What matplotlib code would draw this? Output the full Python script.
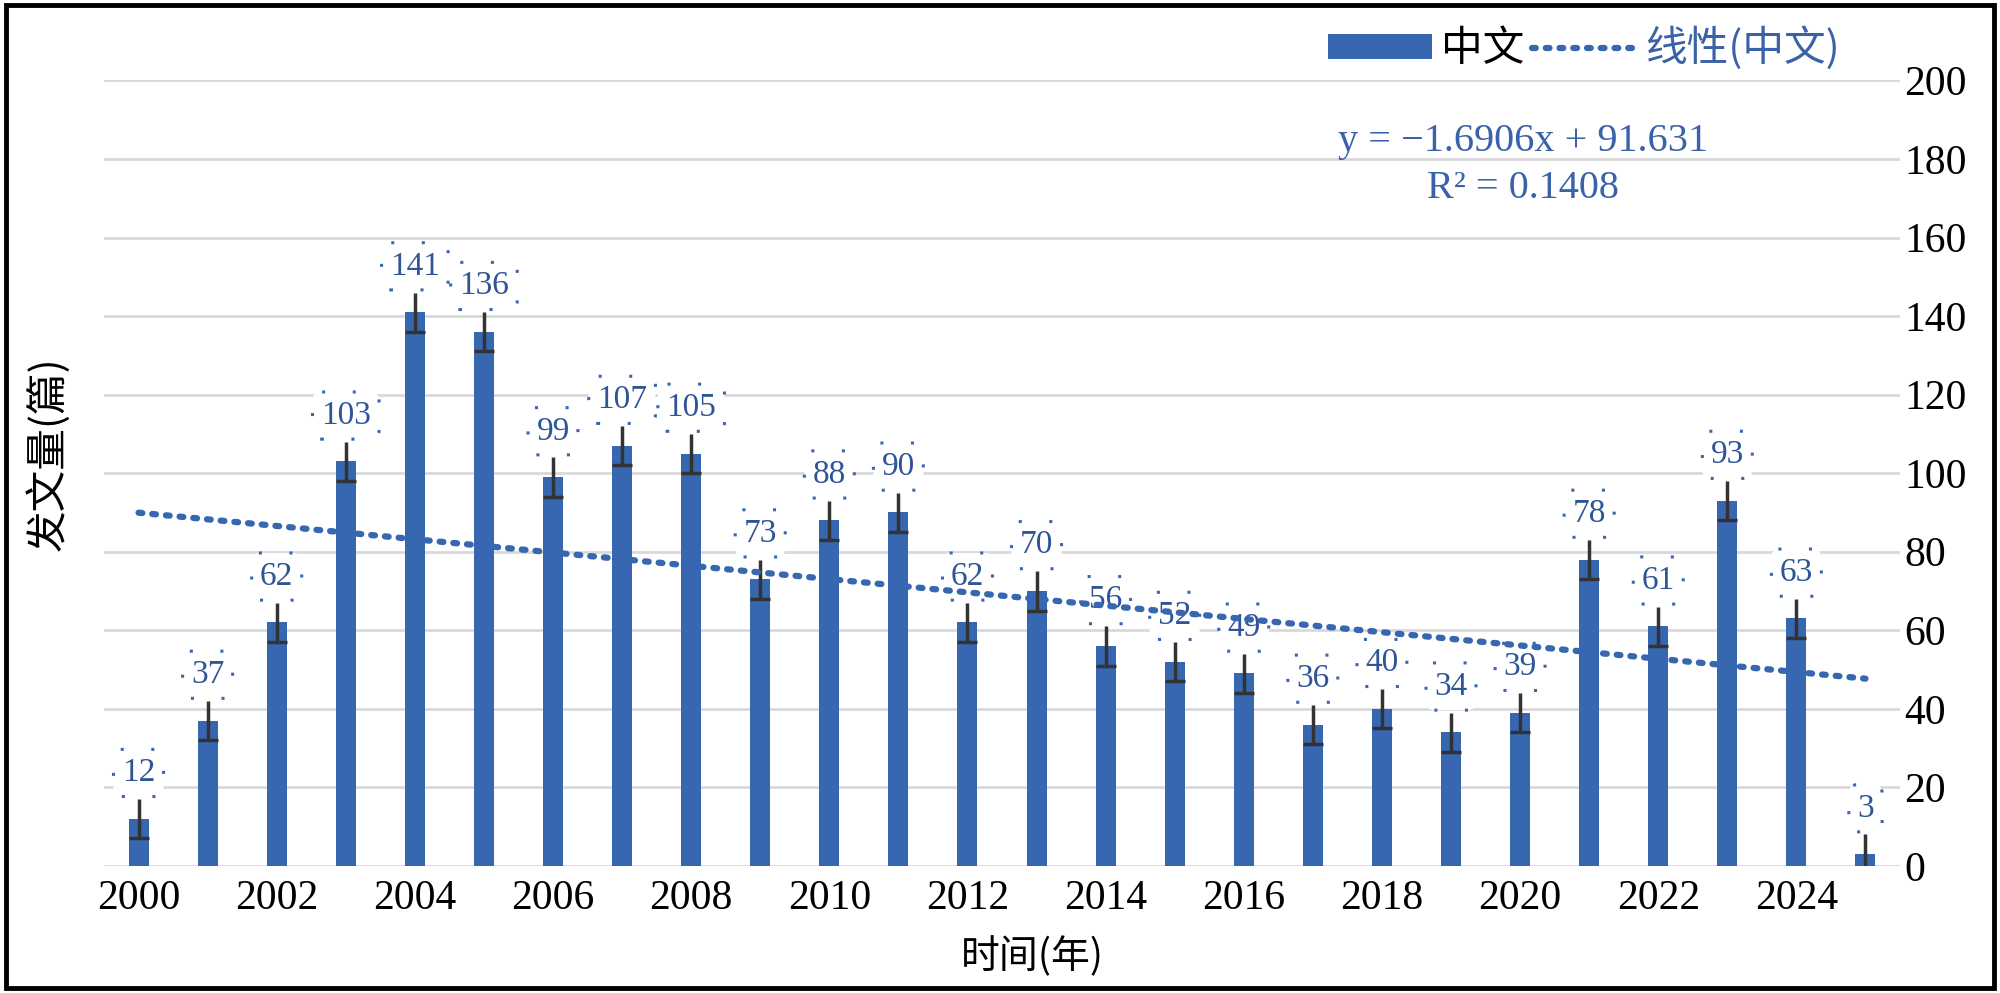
import numpy as np
import matplotlib
matplotlib.use("Agg")
import matplotlib.pyplot as plt
from matplotlib.patches import Patch, Rectangle
from matplotlib.lines import Line2D

# data
years = list(range(2000, 2026))
counts = [12, 37, 62, 103, 141, 136, 99, 107, 105, 73, 88, 90, 62, 70,
          56, 52, 49, 36, 40, 34, 39, 78, 61, 93, 63, 3]
err = 5
xticks_shown = list(range(2000, 2025, 2))
yticks = list(range(0, 201, 20))

bar_color = "#3767b1"
label_color = "#2f5597"
serif = ["Liberation Serif", "Noto Sans CJK SC"]
cjk = ["Noto Sans CJK SC", "Liberation Serif"]

fig = plt.figure(figsize=(20, 9.93), dpi=100)
ax = fig.add_axes([0.052, 0.128, 0.898, 0.791])

x = np.arange(len(years))
ax.bar(x, counts, width=0.29, color=bar_color, zorder=2)
ax.errorbar(x, counts, yerr=err, fmt="none", ecolor="#333333",
            elinewidth=2.5, capsize=0, zorder=3)
ax.plot(x, np.array(counts) - err, "_", color="#333333", ms=14, mew=2.5,
        zorder=3, clip_on=True)

# value labels
for xi, v in zip(x, counts):
    ax.annotate(str(v), (xi, v), xytext=(0, 33), textcoords="offset points",
                ha="center", va="center", fontsize=24, family=serif,
                color=label_color, zorder=4,
                bbox=dict(boxstyle="round,pad=0.25", fc="white",
                          ec=bar_color, ls=(0, (1, 9)), lw=2.2))

# linear trend (Excel style, x = 1..n)
coef = np.polyfit(np.arange(1, len(counts) + 1), counts, 1)
trend = np.polyval(coef, np.arange(1, len(counts) + 1))
ax.plot(x, trend, linestyle=(0, (0.6, 1.6)), color=bar_color, lw=4.5,
        dash_capstyle="round", zorder=5)

ax.text(0.79, 0.892, "y = \u22121.6906x + 91.631\nR\u00b2 = 0.1408",
        transform=ax.transAxes, ha="center", va="center", fontsize=29,
        family=serif, color="#3a62a8", linespacing=1.35)

ax.set_xlim(-0.5, len(years) - 0.5)
ax.set_ylim(0, 200)
ax.set_yticks(yticks)
ax.set_xticks([years.index(y) for y in xticks_shown])
ax.set_xticklabels([str(y) for y in xticks_shown])
ax.yaxis.tick_right()
ax.tick_params(axis="both", length=0, labelsize=30)
ax.tick_params(axis="x", pad=10)
ax.tick_params(axis="y", pad=3)
for lab in ax.get_xticklabels() + ax.get_yticklabels():
    lab.set_family(serif)
ax.grid(axis="y", color="#d9d9d9", lw=2, zorder=0)
ax.set_axisbelow(True)
for s in ax.spines.values():
    s.set_visible(False)

ax.set_xlabel("时间(年)", fontsize=28, family=cjk)
ax.xaxis.set_label_coords(0.517, -0.09)
ax.set_ylabel("发文量(篇)", fontsize=30, family=cjk)
ax.yaxis.set_label_coords(-0.019, 0.525)

handles = [Patch(fc=bar_color, ec="none"),
           Line2D([0], [0], linestyle=(0, (0.6, 1.6)), color=bar_color, lw=4.5,
                  dash_capstyle="round")]
leg = fig.legend(handles, ["中文", "线性(中文)"], loc="upper right",
                 bbox_to_anchor=(0.928, 0.99), ncol=2, frameon=False,
                 prop={"family": cjk, "size": 30}, handlelength=2.5,
                 handleheight=0.55, handletextpad=0.2, columnspacing=0.2,
                 borderaxespad=0)
leg.get_texts()[1].set_color("#3a62a8")

fig.patches.append(Rectangle((0.003, 0.005), 0.994, 0.99, transform=fig.transFigure,
                             fill=False, ec="black", lw=3.5))

fig.savefig("out.png", dpi=100)
